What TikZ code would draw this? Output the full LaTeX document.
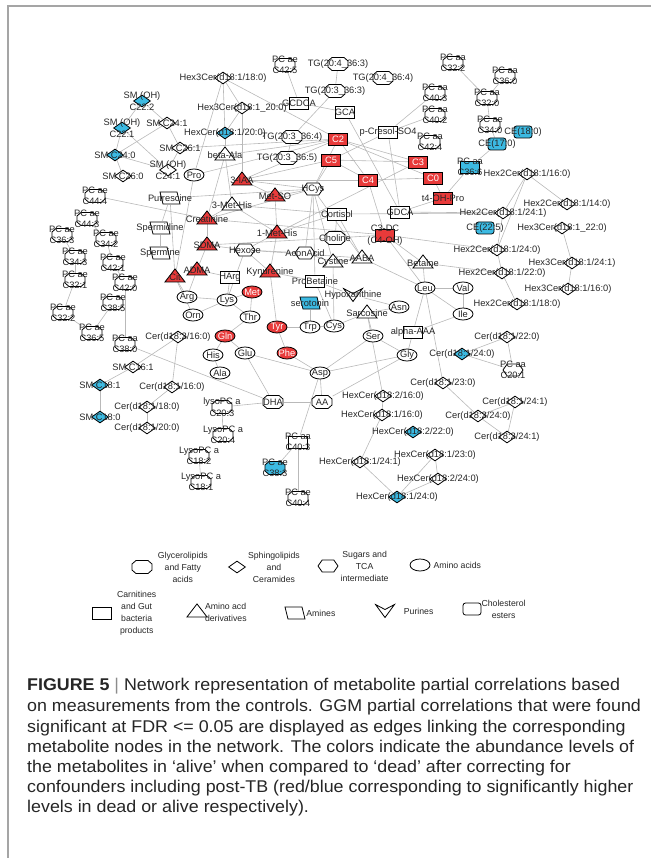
\documentclass[tikz,border=0pt]{standalone}
\usepackage{fontspec}
\setmainfont{Liberation Sans}
\newfontfamily\capfont[FakeStretch=1.05]{Liberation Sans}
\usetikzlibrary{shapes.geometric,shapes.symbols,positioning}
\definecolor{deadred}{RGB}{232,58,58}
\definecolor{aliveblue}{RGB}{60,186,226}
\definecolor{linkgray}{RGB}{185,185,185}
\definecolor{framegray}{RGB}{165,165,165}
\pgfdeclarelayer{bg}
\pgfsetlayers{bg,main}
\tikzset{
metab/.style={draw, line width=0.8pt, inner sep=0pt, fill=white}, % every metabolite node
every label/.style={font=\fontsize{9.3}{11.5}\selectfont, inner sep=0pt, align=center, text=black!85},
gl/.style={inner sep=0pt, minimum width=21pt, minimum height=14pt, path picture={\draw[line width=0.8pt, fill=#1]
  ([shift={(4.5pt,-0.5pt)}]path picture bounding box.north west) -- ([shift={(-4.5pt,-0.5pt)}]path picture bounding box.north east)
  -- ([shift={(-0.5pt,-4pt)}]path picture bounding box.north east) -- ([shift={(-0.5pt,4pt)}]path picture bounding box.south east)
  -- ([shift={(-4.5pt,0.5pt)}]path picture bounding box.south east) -- ([shift={(4.5pt,0.5pt)}]path picture bounding box.south west)
  -- ([shift={(0.5pt,4pt)}]path picture bounding box.south west) -- ([shift={(0.5pt,-4pt)}]path picture bounding box.north west) -- cycle;}}, % glycerolipids
gl/.default=white,
sph/.style={metab, diamond, minimum width=17pt, minimum height=12pt}, % sphingolipids
sug/.style={metab, signal, signal to=east and west, signal pointer angle=110, minimum width=20pt, minimum height=12pt}, % sugars, TCA
aa/.style={metab, ellipse, minimum width=20pt, minimum height=12pt}, % amino acids
carn/.style={metab, rectangle, minimum width=19pt, minimum height=12pt}, % carnitines
aad/.style={metab, isosceles triangle, isosceles triangle stretches, shape border rotate=90, minimum width=20pt, minimum height=13pt}, % amino acid derivatives
amine/.style={inner sep=0pt, minimum width=22pt, minimum height=14pt, path picture={\draw[line width=0.8pt, fill=#1] ([shift={(1pt,-1pt)}]path picture bounding box.north west) -- ([shift={(-4pt,-1pt)}]path picture bounding box.north east) -- ([shift={(-1pt,1pt)}]path picture bounding box.south east) -- ([shift={(4pt,1pt)}]path picture bounding box.south west) -- cycle;}}, % amines
amine/.default=white,
pur/.style={inner sep=0pt, minimum width=21pt, minimum height=15pt, path picture={\draw[line width=0.8pt, fill=white] ([shift={(1pt,-1pt)}]path picture bounding box.north west) -- ([shift={(0pt,-6pt)}]path picture bounding box.north) -- ([shift={(-1pt,-1pt)}]path picture bounding box.north east) -- ([shift={(0pt,1pt)}]path picture bounding box.south) -- cycle;}}, % purines
ce/.style={metab, rectangle, rounded corners=2.5pt, minimum width=18pt, minimum height=12pt}, % cholesterol esters
dead/.style={fill=deadred},
alive/.style={fill=aliveblue},
link/.style={draw=linkgray, line width=0.6pt},
legtext/.style={font=\fontsize{8.7}{12}\selectfont, align=center, inner sep=0pt, text=black!85},
capline/.style={anchor=base west, inner sep=0pt, font=\capfont\fontsize{17}{20.3}\selectfont, text=black!85},
}

\begin{document}
\begin{tikzpicture}[x=1pt,y=-1pt]
\useasboundingbox (0,0) rectangle (651,858);
\draw[framegray, line width=1.3pt] (8,858) -- (8,6) -- (651,6);

% sphingomyelins and hexosylceramides, top left
\node[sph, alive] (smoh222) at (142,101) [label=center:{SM (OH)\\C22:2}] {};
\node[sph, alive] (smoh221) at (122,128) [label=center:{SM (OH)\\C22:1}] {};
\node[sph] (smc241) at (167,123) [label=center:{SM C24:1}] {};
\node[sph] (smc261) at (180,148) [label=center:{SM C26:1}] {};
\node[sph, alive] (smc240) at (115,155) [label=center:{SM C24:0}] {};
\node[sph] (smoh241) at (168,170) [label=center:{SM (OH)\\C24:1}] {};
\node[sph] (smc260) at (123,176) [label=center:{SM C26:0}] {};
\node[sph] (h3c18) at (223,78) [label=center:{Hex3Cer(d18:1/18:0)}] {};
\node[sph] (h3c20) at (242,108) [label=center:{Hex3Cer(d18:1\_20:0)}] {};
\node[sph, alive] (hc20) at (225,133) [label=center:{HexCer(d18:1/20:0)}] {};

% glycerolipids and bile acids, top
\node[gl] (pc425) at (285,65) [label=center:{PC ae\\C42:5}] {};
\node[gl] (tg4363) at (338,64) [label=center:{TG(20:4\_36:3)}] {};
\node[gl] (tg4364) at (383,78) [label=center:{TG(20:4\_36:4)}] {};
\node[gl] (tg3363) at (335,91) [label=center:{TG(20:3\_36:3)}] {};
\node[gl] (tg3364) at (292,137) [label=center:{TG(20:3\_36:4)}] {};
\node[gl] (tg3365) at (287,158) [label=center:{TG(20:3\_36:5)}] {};
\node[carn] (gcdca) at (299,103) [label=center:{GCDCA}] {};
\node[carn] (gca) at (345,112) [label=center:{GCA}] {};
\node[carn] (pcresol) at (388,132) [label=center:{p-Cresol-SO4}] {};
\node[gl] (pc403) at (435,93) [label=center:{PC aa\\C40:3}] {};
\node[gl] (pc402) at (435,115) [label=center:{PC aa\\C40:2}] {};
\node[gl] (pc424) at (430,142) [label=center:{PC aa\\C42:4}] {};
\node[gl] (pc322) at (453,63) [label=center:{PC aa\\C32:2}] {};
\node[gl] (pc360) at (505,76) [label=center:{PC aa\\C36:0}] {};
\node[gl] (pc320) at (487,98) [label=center:{PC aa\\C32:0}] {};
\node[gl] (pc340) at (490,125) [label=center:{PC ae\\C34:0}] {};
\node[ce, alive] (ce180) at (523,132) [label=center:{CE(18:0)}] {};
\node[ce, alive] (ce170) at (497,144) [label=center:{CE(17:0)}] {};
\node[carn, alive] (pc366) at (470,167) [label=center:{PC aa\\C36:6}] {};

% acylcarnitines
\node[carn, dead] (c2) at (338,139) [label={[text=white]center:C2}] {};
\node[carn, dead] (c5) at (331,160) [label={[text=white]center:C5}] {};
\node[carn, dead] (c4) at (368,180) [label={[text=white]center:C4}] {};
\node[carn, dead] (c3) at (418,162) [label={[text=white]center:C3}] {};
\node[carn, dead] (c0) at (433,178) [label={[text=white]center:C0}] {};
\node[carn, dead] (t4ohpro) at (443,198) [label=center:{t4-OH-Pro}] {};
\node[carn, dead] (c3dc) at (385,235) [label=center:{C3-DC\\(C4-OH)}] {};
\node[carn] (gdca) at (400,212) [label=center:{GDCA}] {};
\node[carn] (cortisol) at (337,214) [label=center:{Cortisol}] {};

% hexosylceramides, right
\node[sph] (h2c16) at (527,174) [label=center:{Hex2Cer(d18:1/16:0)}] {};
\node[sph] (h2c14) at (567,204) [label=center:{Hex2Cer(d18:1/14:0)}] {};
\node[sph] (h2c241) at (503,213) [label=center:{Hex2Cer(d18:1/24:1)}] {};
\node[ce, alive] (ce225) at (485,228) [label=center:{CE(22:5)}] {};
\node[sph] (h3c22) at (562,228) [label=center:{Hex3Cer(d18:1\_22:0)}] {};
\node[sph] (h2c240) at (497,250) [label=center:{Hex2Cer(d18:1/24:0)}] {};
\node[sph] (h3c241) at (572,263) [label=center:{Hex3Cer(d18:1/24:1)}] {};
\node[sph] (h2c22) at (502,273) [label=center:{Hex2Cer(d18:1/22:0)}] {};
\node[sph] (h3c16) at (568,289) [label=center:{Hex3Cer(d18:1/16:0)}] {};
\node[sph] (h2c18) at (517,304) [label=center:{Hex2Cer(d18:1/18:0)}] {};

% amino acid derivatives and amines
\node[aa] (pro) at (194,175) [label=center:{Pro}] {};
\node[aad] (betaala) at (225,155) [label=center:{beta-Ala}] {};
\node[aad, dead] (iaa) at (242,180) [label=center:{3-IAA}] {};
\node[aad, dead] (metso) at (275,196) [label=center:{Met-SO}] {};
\node[sug] (hcys) at (313,189) [label=center:{HCys}] {};
\node[amine] (putr) at (170,198) [label=center:{Putrescine}] {};
\node[aad] (methis3) at (232,205) [label=center:{3-Met-His}] {};
\node[aad, dead] (creat) at (207,219) [label=center:{Creatinine}] {};
\node[amine] (spmd) at (160,228) [label=center:{Spermidine}] {};
\node[amine] (spm) at (160,253) [label=center:{Spermine}] {};
\node[aad, dead] (sdma) at (207,245) [label=center:{SDMA}] {};
\node[aad, dead] (adma) at (197,270) [label=center:{ADMA}] {};
\node[aad, dead] (cit) at (175,277) [label=center:{Cit}] {};
\node[sug] (hexose) at (245,250) [label=center:{Hexose}] {};
\node[aad, dead] (methis1) at (277,233) [label=center:{1-Met-His}] {};
\node[carn] (harg) at (230,277) [label=center:{HArg}] {};
\node[aad, dead] (kyn) at (270,272) [label=center:{Kynurenine}] {};
\node[sug] (acon) at (305,253) [label=center:{AconAcid}] {};
\node[gl] (choline) at (335,238) [label=center:{Choline}] {};
\node[aad] (cystine) at (333,262) [label=center:{Cystine}] {};
\node[aad] (aaba) at (362,258) [label=center:{AABA}] {};
\node[aad] (betaine) at (423,263) [label=center:{Betaine}] {};
\node[carn] (probet) at (315,281) [label=center:{ProBetaine}] {};
\node[amine=aliveblue] (sero) at (310,303) [label=center:{serotonin}] {};
\node[pur] (hypox) at (353,295) [label=center:{Hypoxanthine}] {};
\node[aad] (sarc) at (367,313) [label=center:{Sarcosine}] {};
\node[carn] (aaaa) at (413,332) [label=center:{alpha-AAA}] {};

% amino acids
\node[aa] (leu) at (425,288) [label=center:{Leu}] {};
\node[aa] (val) at (463,288) [label=center:{Val}] {};
\node[aa] (ile) at (463,314) [label=center:{Ile}] {};
\node[aa] (asn) at (399,307) [label=center:{Asn}] {};
\node[aa] (ser) at (373,336) [label=center:{Ser}] {};
\node[aa] (gly) at (407,355) [label=center:{Gly}] {};
\node[aa] (cys) at (334,326) [label=center:{Cys}] {};
\node[aa, dead] (tyr) at (277,327) [label={[text=white]center:Tyr}] {};
\node[aa] (trp) at (310,327) [label=center:{Trp}] {};
\node[aa, dead] (met) at (252,292) [label={[text=white]center:Met}] {};
\node[aa] (arg) at (187,297) [label=center:{Arg}] {};
\node[aa] (lys) at (227,300) [label=center:{Lys}] {};
\node[aa] (orn) at (193,315) [label=center:{Orn}] {};
\node[aa] (thr) at (250,317) [label=center:{Thr}] {};
\node[aa, dead] (gln) at (225,336) [label={[text=white]center:Gln}] {};
\node[aa, dead] (phe) at (287,353) [label={[text=white]center:Phe}] {};
\node[aa] (his) at (213,355) [label=center:{His}] {};
\node[aa] (glu) at (245,353) [label=center:{Glu}] {};
\node[aa] (ala) at (220,373) [label=center:{Ala}] {};
\node[aa] (asp) at (320,373) [label=center:{Asp}] {};

% ceramides, bottom right
\node[sph] (cer220) at (507,337) [label=center:{Cer(d18:1/22:0)}] {};
\node[sph, alive] (cer240) at (462,354) [label=center:{Cer(d18:1/24:0)}] {};
\node[sug] (pc201) at (513,370) [label=center:{PC aa\\C20:1}] {};
\node[sph] (cer230) at (443,383) [label=center:{Cer(d18:1/23:0)}] {};
\node[sph] (cer241a) at (515,402) [label=center:{Cer(d18:1/24:1)}] {};
\node[sph] (cer2240) at (478,416) [label=center:{Cer(d18:2/24:0)}] {};
\node[sph] (cer2241) at (507,437) [label=center:{Cer(d18:2/24:1)}] {};
\node[sph] (hc216) at (383,396) [label=center:{HexCer(d18:2/16:0)}] {};
\node[sph] (hc116) at (382,415) [label=center:{HexCer(d18:1/16:0)}] {};
\node[sph, alive] (hc222) at (413,432) [label=center:{HexCer(d18:2/22:0)}] {};
\node[sph] (hc123) at (435,455) [label=center:{HexCer(d18:1/23:0)}] {};
\node[sph] (hc1241) at (360,462) [label=center:{HexCer(d18:1/24:1)}] {};
\node[sph] (hc224) at (438,479) [label=center:{HexCer(d18:2/24:0)}] {};
\node[sph, alive] (hc124) at (397,497) [label=center:{HexCer(d18:1/24:0)}] {};

% sphingolipids, bottom left
\node[sph] (cer216) at (178,337) [label=center:{Cer(d18:2/16:0)}] {};
\node[sph] (smc161) at (133,367) [label=center:{SM C16:1}] {};
\node[sph, alive] (smc181) at (100,385) [label=center:{SM C18:1}] {};
\node[sph] (cer116) at (172,387) [label=center:{Cer(d18:1/16:0)}] {};
\node[sph, alive] (smc180) at (100,417) [label=center:{SM C18:0}] {};
\node[sph] (cer118) at (147,407) [label=center:{Cer(d18:1/18:0)}] {};
\node[sph] (cer120) at (147,428) [label=center:{Cer(d18:1/20:0)}] {};

% lysophosphatidylcholines and fatty acids, bottom
\node[gl] (lpc203) at (222,407) [label=center:{lysoPC a\\C20:3}] {};
\node[gl] (lpc204) at (223,435) [label=center:{LysoPC a\\C20:4}] {};
\node[gl] (lpc182) at (199,456) [label=center:{LysoPC a\\C18:2}] {};
\node[gl] (lpc181) at (201,482) [label=center:{LysoPC a\\C18:1}] {};
\node[gl] (dha) at (273,402) [label=center:{DHA}] {};
\node[gl] (arach) at (322,402) [label=center:{AA}] {};
\node[carn] (pc403b) at (298,442) [label=center:{PC aa\\C40:3}] {};
\node[gl=aliveblue] (pc383) at (275,468) [label=center:{PC ae\\C38:3}] {};
\node[gl] (pc404) at (298,498) [label=center:{PC ae\\C40:4}] {};

% phosphatidylcholines, left
\node[gl] (pc444) at (95,196) [label=center:{PC ae\\C44:4}] {};
\node[gl] (pc443) at (87,219) [label=center:{PC ae\\C44:3}] {};
\node[gl] (pc363) at (62,235) [label=center:{PC ae\\C36:3}] {};
\node[gl] (pc342) at (106,239) [label=center:{PC ae\\C34:2}] {};
\node[gl] (pc343) at (75,257) [label=center:{PC ae\\C34:3}] {};
\node[gl] (pc421) at (113,263) [label=center:{PC ae\\C42:1}] {};
\node[gl] (pc321) at (75,280) [label=center:{PC ae\\C32:1}] {};
\node[gl] (pc420) at (125,283) [label=center:{PC ae\\C42:0}] {};
\node[gl] (pc385) at (113,303) [label=center:{PC ae\\C38:5}] {};
\node[gl] (pc322e) at (63,313) [label=center:{PC ae\\C32:2}] {};
\node[gl] (pc365) at (92,333) [label=center:{PC ae\\C36:5}] {};
\node[gl] (pc380) at (125,344) [label=center:{PC aa\\C38:0}] {};

\begin{pgfonlayer}{bg}
\path[link]
(smoh222) edge (smoh221) (smoh222) edge (smc241) (smoh221) edge (smc240)
(smoh221) edge (smoh241) (smc241) edge (smc261) (smc241) edge (smc240)
(smc240) edge (smoh241) (smc261) edge (smoh241) (smc260) edge (smc240)
(smc261) edge (c2) (h3c18) edge (hc20) (h3c18) edge (h3c20)
(h3c18) edge (pro) (h3c18) edge (c2) (h3c20) edge (hc20)
(h3c20) edge (iaa) (hc20) edge (betaala) (betaala) edge (creat)
(betaala) edge (methis3) (betaala) edge (c2) (pc425) edge (gcdca)
(tg4363) edge (tg3363) (tg3363) edge (tg3364) (tg3364) edge (tg3365)
(gcdca) edge (gca) (gca) edge (gdca) (pcresol) edge (pc403)
(pcresol) edge (pc402) (pcresol) edge (gdca) (pcresol) edge (c5)
(pc322) edge (pc320) (pc360) edge (pc320) (pc320) edge (pc340)
(pc340) edge (ce170) (ce170) edge (pc366) (pc366) edge (t4ohpro);
% acylcarnitines
\path[link]
(c2) edge (c3) (c2) edge (c0) (c2) edge (c4) (c5) edge (c4)
(c5) edge (c3) (c4) edge (c0) (c4) edge (c3dc) (c0) edge (t4ohpro)
(c2) edge (hcys) (c5) edge (hcys) (iaa) edge (c4) (iaa) edge (c5)
(iaa) edge (c2) (pro) edge (c2) (methis1) edge (c3) (creat) edge (c3dc)
(t4ohpro) edge (gdca);
% hexosylceramides
\path[link]
(h2c16) edge (h2c14) (h2c16) edge (h2c241) (h2c16) edge (h2c240)
(h2c241) edge (h2c240) (h3c22) edge (h3c241) (h3c241) edge (h3c16)
(h2c240) edge (h2c22) (h2c22) edge (h2c18) (h2c240) edge (c3dc)
(h2c22) edge (betaine) (h2c241) edge (gdca) (h2c241) edge (cortisol);
% centre
\path[link]
(iaa) edge (metso) (iaa) edge (hcys) (metso) edge (methis1)
(metso) edge (hcys) (hcys) edge (cystine) (hcys) edge (acon)
(hcys) edge (probet) (hcys) edge (aaba) (hcys) edge (putr)
(creat) edge (hcys) (methis3) edge (cortisol) (sdma) edge (choline)
(methis1) edge (hexose) (methis1) edge (kyn) (methis1) edge (cortisol)
(methis3) edge (methis1) (hexose) edge (acon) (hexose) edge (sdma)
(hexose) edge (kyn) (hexose) edge (lys) (hexose) edge (aaba) (kyn) edge (tyr)
(kyn) edge (probet) (cortisol) edge (choline) (choline) edge (c3dc)
(cystine) edge (aaba) (cystine) edge (cys) (aaba) edge (leu)
(aaba) edge (cortisol) (c3dc) edge (betaine) (c3dc) edge (leu)
(acon) edge (cystine);
% amines, creatinine, amino acids
\path[link]
(putr) edge (spmd) (spmd) edge (spm) (putr) edge (cit) (pro) edge (cit)
(pc444) edge (creat) (creat) edge (sdma) (creat) edge (methis3)
(sdma) edge (adma) (adma) edge (harg) (adma) edge (arg) (cit) edge (arg)
(cit) edge (orn) (harg) edge (lys) (lys) edge (met) (lys) edge (arg)
(lys) edge (orn) (lys) edge (thr) (met) edge (thr) (thr) edge (gln)
(gln) edge (his) (his) edge (ala) (gln) edge (glu) (glu) edge (asp)
(glu) edge (dha) (tyr) edge (trp) (tyr) edge (phe) (trp) edge (sero)
(phe) edge (asp) (asp) edge (arach) (arach) edge (dha) (asp) edge (pc403b)
(arach) edge (gly) (asp) edge (ser) (asp) edge (gly) (cys) edge (trp)
(cys) edge (sarc) (probet) edge (hypox) (probet) edge (cys)
(hypox) edge (asn) (sarc) edge (ser) (sarc) edge (asn) (ser) edge (gly)
(gly) edge (aaaa) (aaaa) edge (leu) (aaaa) edge (ile) (leu) edge (val)
(val) edge (ile) (leu) edge (ile) (leu) edge (betaine) (leu) edge (cer230)
(sarc) edge (hc216);
% ceramides, lipids
\path[link]
(cer220) edge (cer240) (cer220) edge (pc201) (cer240) edge (pc201)
(cer230) edge (cer2240) (cer2240) edge (cer241a) (cer2240) edge (cer2241)
(cer241a) edge (cer2241) (hc216) edge (hc116) (hc116) edge (hc1241)
(hc1241) edge (hc124) (hc124) edge (hc123) (hc124) edge (hc224)
(hc123) edge (hc224) (dha) edge (lpc203) (lpc203) edge (lpc204)
(lpc182) edge (lpc181) (pc403b) edge (pc383) (pc403b) edge (pc404)
(pc380) edge (dha) (pc443) edge (pc342) (pc363) edge (pc343)
(pc343) edge (pc321) (pc342) edge (pc421) (pc421) edge (pc420)
(pc420) edge (pc380) (pc385) edge (pc365) (pc321) edge (pc322e)
(pc322e) edge (pc365) (smc161) edge (cer216) (smc161) edge (smc181)
(smc181) edge (smc180) (cer216) edge (cer116) (cer116) edge (cer118)
(cer118) edge (cer120);
\end{pgfonlayer}

% legend
\node[gl] (legGl) at (142,567) {};
\node[legtext] (legGlT) [right=5pt of legGl] {Glycerolipids\\and Fatty\\acids};
\node[sph] (legSph) at (237,567) {};
\node[legtext] (legSphT) [right=2pt of legSph] {Sphingolipids\\and\\Ceramides};
\node[sug] (legSug) at (328,566) {};
\node[legtext] (legSugT) [right=2pt of legSug] {Sugars and\\TCA\\intermediate};
\node[aa] (legAa) at (420,565) {};
\node[legtext] (legAaT) [right=3pt of legAa] {Amino acids};
\node[carn] (legCarn) at (102,613) {};
\node[legtext] (legCarnT) [right=5pt of legCarn] {Carnitines\\and Gut\\bacteria\\products};
\node[aad] (legAad) at (197,612) {};
\node[legtext, align=left] (legAadT) [right=1pt of legAad] {Amino acd\\derivatives};
\node[amine] (legAmine) at (295,613) {};
\node[legtext] (legAmineT) [right=0pt of legAmine] {Amines};
\node[pur] (legPur) at (385,611) {};
\node[legtext] (legPurT) [right=8pt of legPur] {Purines};
\node[ce] (legCe) at (472,609) {};
\node[legtext] (legCeT) [right=0pt of legCe] {Cholesterol\\esters};

% caption
\node[capline] (cap1) at (27,690.5) {\textbf{FIGURE 5} {\color{black!45}|} Network representation of metabolite partial correlations based};
\node[capline] (cap2) at (27,711.5) {on measurements from the controls. GGM partial correlations that were found};
\node[capline] (cap3) at (27,732) {significant at FDR <= 0.05 are displayed as edges linking the corresponding};
\node[capline] (cap4) at (27,752) {metabolite nodes in the network. The colors indicate the abundance levels of};
\node[capline] (cap5) at (27,772.5) {the metabolites in ‘alive’ when compared to ‘dead’ after correcting for};
\node[capline] (cap6) at (27,792.5) {confounders including post-TB (red/blue corresponding to significantly higher};
\node[capline] (cap7) at (27,812.5) {levels in dead or alive respectively).};
\end{tikzpicture}
\end{document}
